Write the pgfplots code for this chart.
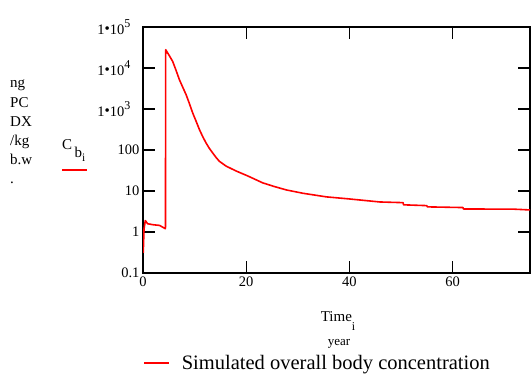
\documentclass[border=0pt]{standalone}
\usepackage{pgfplots}
\pgfplotsset{compat=1.18}
\usepackage{fontspec}
\setmainfont{Liberation Serif}
\newcommand{\pw}[1]{1\raisebox{0.1ex}{\fontsize{15}{15}\selectfont •}10\raisebox{1.0ex}{\fontsize{12}{12}\selectfont #1}\hspace*{9pt}}
\begin{document}
\begin{tikzpicture}[x=1pt,y=1pt]
\useasboundingbox (0,0) rectangle (532,377);
\begin{axis}[
  at={(143pt,104pt)}, anchor=south west,
  scale only axis, width=387pt, height=246pt,
  ymode=log, xmin=0, xmax=75, ymin=0.1, ymax=1e5,
  axis line style={line width=1.2pt},
  tick style={line width=1.2pt, black},
  major tick length=12pt, tick align=inside,
  xtick={0,20,40,60}, ytick={0.1,1,10,100,1000,10000,100000},
  yticklabels={0.1,1,10,100,{\pw{3}},{\pw{4}},{\pw{5}}},
  xticklabels={0,20,40,60},
  ticklabel style={font=\fontsize{14.5}{14.5}\selectfont},
  /pgf/number format/assume math mode=true,
  minor tick num=0, log basis y=10,
  legend style={at={(0,-0.335)}, anchor=north west, draw=none, fill=none,
    font=\fontsize{20.5}{20.5}\selectfont, inner sep=0pt, row sep=0pt,
    nodes={inner sep=0pt, text depth=0pt}},
  legend cell align=left,
  legend image code/.code={\draw[#1] (0pt,0pt) -- (25pt,0pt);},
  clip=true,
]
\addplot[red, line width=1.6pt, line join=round] coordinates {
(0.05,0.31) (0.2,1.2) (0.45,1.9) (0.9,1.59) (2,1.5) (3.2,1.45) (4.35,1.2)
(4.4,27900) (5.1,20000) (5.75,14500) (6.4,8800) (7.05,5200) (7.7,3400) (8.35,2240) (9.0,1350) (9.63,800) (10.3,500) (10.93,316)
(11.55,215) (12.2,150) (12.85,110) (13.5,85) (14.15,66) (14.8,53) (16.1,40.5) (18.06,30.7) (20.3,23.3)
(23.2,15.8) (25.5,12.8) (27.8,10.6) (31,8.8) (35.5,7.2) (40,6.4) (45.9,5.4)
(50.4,5.2) (50.5,4.6) (55,4.4) (55.1,4.1) (62,3.95) (62.1,3.65) (72,3.6) (75,3.45)
};
\addlegendentry{\hspace*{12pt}Simulated overall body concentration}
\end{axis}
\node[anchor=north west, align=left, font=\fontsize{15}{19.2}\selectfont, inner sep=0pt] at (10,297) {ng\\PC\\DX\\/kg\\b.w\\.};
\node[anchor=base west, inner sep=0pt, font=\fontsize{15}{15}\selectfont] at (62,227) {C\,\raisebox{-1.1ex}{b}\raisebox{-1.7ex}{\fontsize{11.5}{11.5}\selectfont i}};
\draw[red, line width=1.3pt] (62,207) -- (87,207);
\node[anchor=base, inner sep=0pt, font=\fontsize{15}{15}\selectfont] at (338,55) {Time\raisebox{-1.2ex}{\fontsize{12}{12}\selectfont i}};
\node[anchor=base, inner sep=0pt, font=\fontsize{13}{13}\selectfont] at (339,31) {year};
\end{tikzpicture}
\end{document}
